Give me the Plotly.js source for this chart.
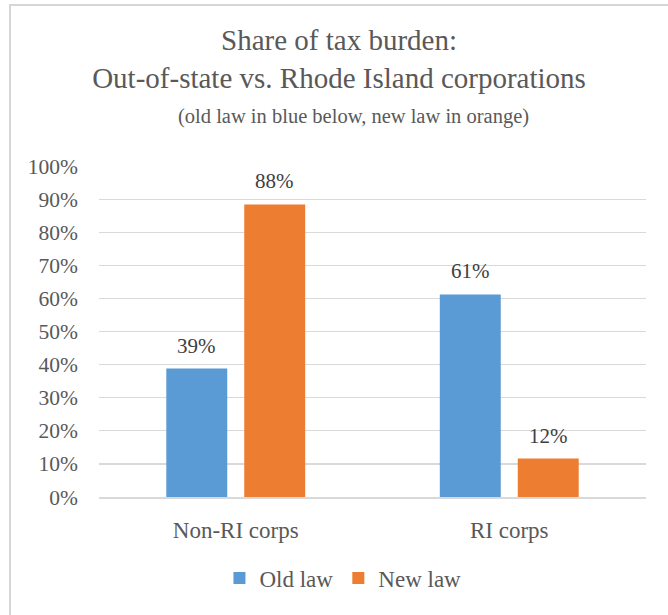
<!DOCTYPE html>
<html>
<head>
<meta charset="utf-8">
<script src="https://cdn.plot.ly/plotly-3.0.1.min.js"></script>
<style>
  html, body { margin: 0; padding: 0; background: #ffffff; }
  #wrap { position: relative; width: 668px; height: 615px; overflow: hidden; }
  #chart { width: 668px; height: 615px; }
  #frame { position: absolute; z-index: 10; left: 9px; top: 4px; width: 680px; height: 640px;
           border-left: 2px solid #d6d6d6; border-top: 2px solid #d6d6d6; pointer-events: none; }
</style>
</head>
<body>
<div id="wrap"><div id="chart"></div><div id="frame"></div></div>
<script>
// ---- data ----
var categories = ["Non-RI corps", "RI corps"];
var oldLaw = [0.388, 0.612];
var newLaw = [0.884, 0.116];
var oldLabels = ["39%", "61%"];
var newLabels = ["88%", "12%"];
var seriesNames = ["Old law", "New law"];
var yTickVals = [0, 0.1, 0.2, 0.3, 0.4, 0.5, 0.6, 0.7, 0.8, 0.9, 1.0];
var yTickText = ["0%", "10%", "20%", "30%", "40%", "50%", "60%", "70%", "80%", "90%", "100%"];

var FONT = "Liberation Serif, Times New Roman, serif";
var BLUE = "#5B9BD5", ORANGE = "#ED7D31";

var traces = [
  { type: "bar", name: seriesNames[0], x: categories, y: oldLaw,
    marker: { color: BLUE }, hoverinfo: "skip" },
  { type: "bar", name: seriesNames[1], x: categories, y: newLaw,
    marker: { color: ORANGE }, hoverinfo: "skip" }
];

// bar label annotations, placed from the data values
var W = 668, H = 615, ML = 99, MR = 22, MT = 166, MB = 118;
var plotW = W - ML - MR;
var bargap = 0.43, bargroupgap = 0.218;
var slotPx = plotW / categories.length * (1 - bargap) / 2;
var annotations = [];
[[oldLaw, oldLabels, -1], [newLaw, newLabels, 1]].forEach(function (s) {
  s[0].forEach(function (v, i) {
    annotations.push({
      x: categories[i], y: v, xref: "x", yref: "y",
      text: s[1][i], showarrow: false,
      xshift: s[2] * slotPx / 2, yshift: 9, yanchor: "bottom",
      font: { family: FONT, size: 21, color: "#404040" }
    });
  });
});
annotations.push({
  text: "(old law in blue below, new law in orange)",
  xref: "paper", yref: "paper", x: 0.4644, y: 1.151,
  xanchor: "center", yanchor: "middle", showarrow: false,
  font: { family: FONT, size: 20.5, color: "#595959" }
});

var layout = {
  width: W, height: H,
  margin: { l: ML, r: MR, t: MT, b: MB },
  paper_bgcolor: "#ffffff", plot_bgcolor: "#ffffff",
  barmode: "group", bargap: bargap, bargroupgap: bargroupgap,
  title: {
    text: "Share of tax burden:<br>Out-of-state vs. Rhode Island corporations",
    xref: "container", yref: "container", x: 0.5075, xanchor: "center",
    y: 0.918, yanchor: "top",
    font: { family: FONT, size: 29, color: "#595959" }
  },
  xaxis: {
    type: "category", showgrid: false, zeroline: false,
    showline: true, linecolor: "#d9d9d9", linewidth: 1.5,
    ticks: "", ticklabelstandoff: 12,
    tickfont: { family: FONT, size: 23, color: "#595959" }
  },
  yaxis: {
    range: [0, 1.0], tickvals: yTickVals, ticktext: yTickText,
    showgrid: true, gridcolor: "#d9d9d9", gridwidth: 1.2,
    zeroline: false, showline: false, ticks: "", ticklabelstandoff: 20,
    tickfont: { family: FONT, size: 21.5, color: "#595959" }
  },
  legend: {
    orientation: "h", x: 0.446, xanchor: "center", y: -0.2447, yanchor: "middle",
    font: { family: FONT, size: 23, color: "#595959" }, itemclick: false
  },
  annotations: annotations,
  showlegend: true
};

Plotly.newPlot("chart", traces, layout, { displayModeBar: false, staticPlot: true });
</script>
</body>
</html>
